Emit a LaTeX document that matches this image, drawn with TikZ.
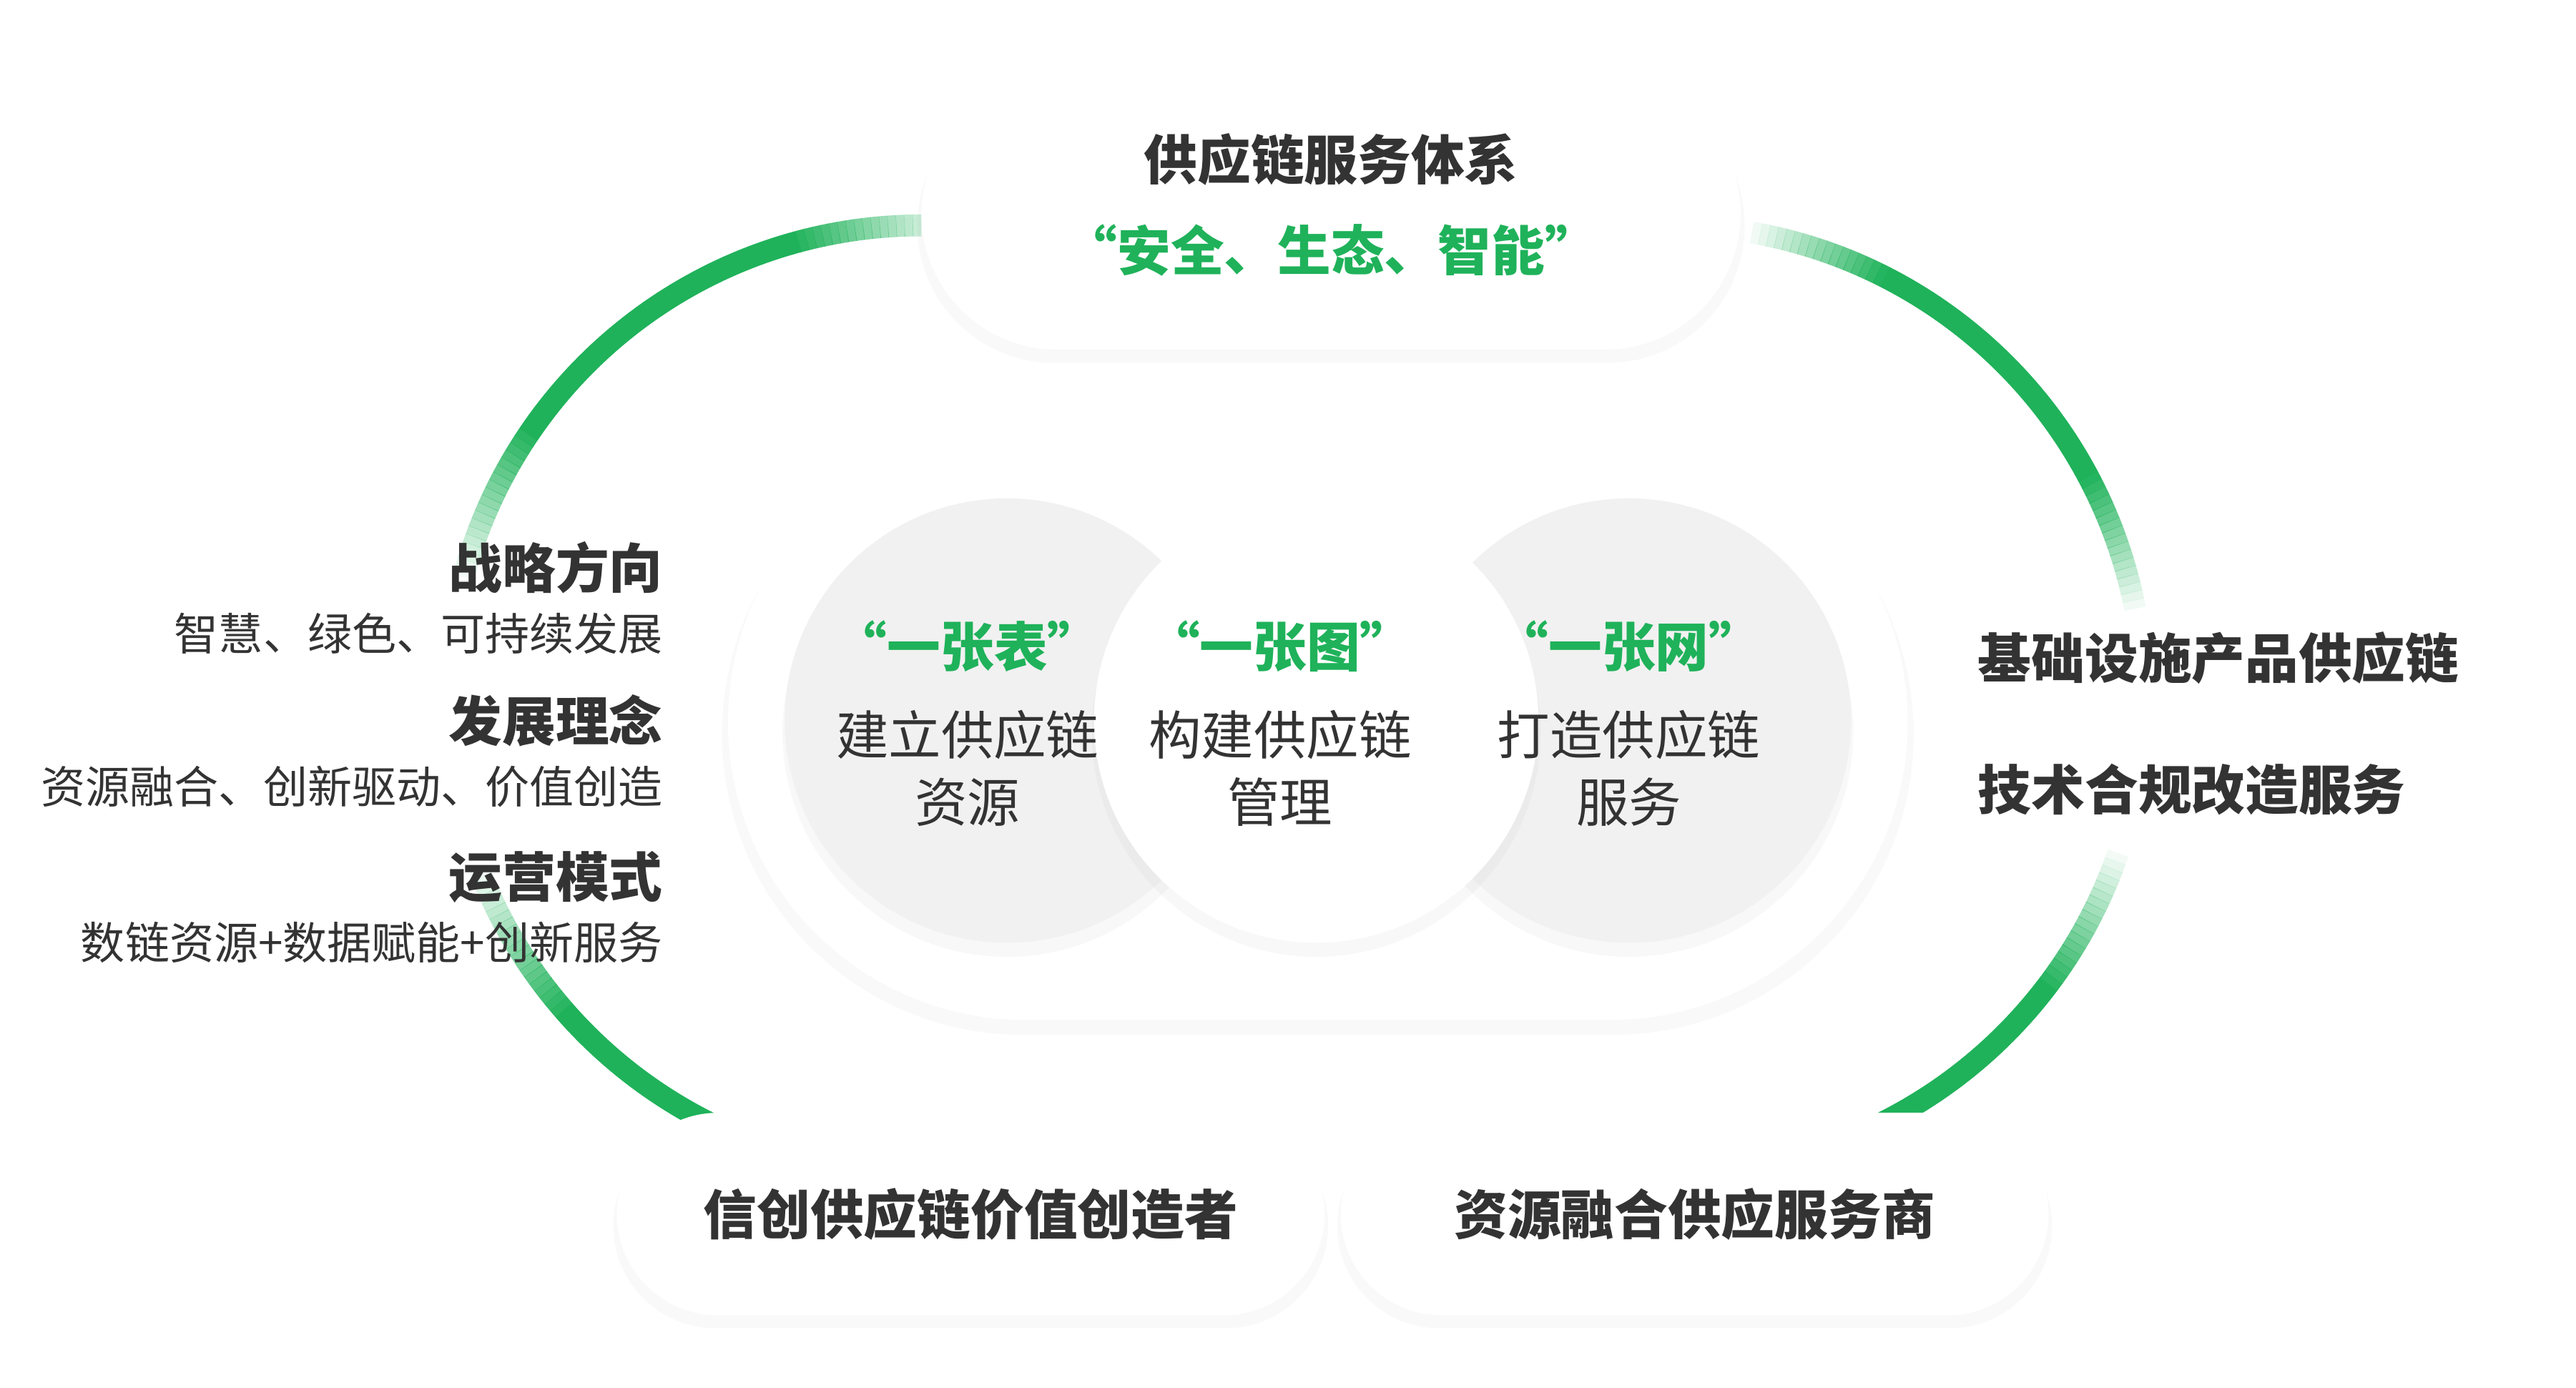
\documentclass[tikz,border=0pt]{standalone}
\usepackage{fontspec}
\setmainfont{Noto Sans CJK SC}
\usetikzlibrary{shadows,positioning}
\definecolor{penGreen}{HTML}{1FB25A}
\definecolor{penText}{HTML}{333333}
\definecolor{penGray}{HTML}{F1F1F1}
\tikzset{
  soft/.style={drop shadow={opacity=0.05,shadow xshift=0pt,shadow yshift=-4pt,shadow scale=1.01}},
  pill/.style={fill=white,draw=none,minimum width=#1,minimum height=3.27cm,
    rounded corners=1.63cm,soft},
  botpill/.style={fill=white,draw=none,minimum width=8.52cm,minimum height=2.44cm,
    rounded corners=1.22cm,soft},
  ball/.style={circle,draw=none,minimum size=5.35cm,fill=#1,soft},
  head/.style={font=\bfseries\fontsize{18.3}{20}\selectfont,text=penText},
  green/.style={font=\bfseries\fontsize{18.3}{20}\selectfont,text=penGreen},
  body/.style={font=\fontsize{18}{23}\selectfont,text=penText,align=center},
  small/.style={font=\fontsize{15.2}{18}\selectfont,text=penText},
}
\begin{document}
\begin{tikzpicture}[x=0.0198cm,y=-0.0198cm,line cap=butt]
  \useasboundingbox (0,0) rectangle (1565.7,843.4);

  % green ring, fading in and out
  \foreach \a [evaluate=\a as \o using {min(1,max(0,2-2*abs(\a-125)/40)+max(0,2-2*abs(\a-242)/42))}] in {90,91,...,269}
    \draw [penGreen,line width=7.5pt,opacity=\o]
      ({560+288*cos(\a)},{425-288*sin(\a)}) -- ({560+288*cos(\a+1.05)},{425-288*sin(\a+1.05)});
  \foreach \a [evaluate=\a as \o using {min(1,max(0,2-2*abs(\a-45)/35)+max(0,2-2*abs(\a+57)/38))}] in {-90,-89,...,89}
    \draw [penGreen,line width=7.5pt,opacity=\o]
      ({1015+288*cos(\a)},{425-288*sin(\a)}) -- ({1015+288*cos(\a+1.05)},{425-288*sin(\a+1.05)});

  % top pill
  \node [pill=9.86cm] (top) at (809,130) {};
  \node [head] (topA) at (809,97) {供应链服务体系};
  \node [green] (topB) at (809,152) {“安全、生态、智能”};

  % centre stadium and circles
  \node [pill=14.2cm,minimum height=7.17cm,rounded corners=3.58cm] (mid) at (801,439) {};
  \node [ball=penGray] (c1) at (612,438) {};
  \node [ball=penGray] (c3) at (990,438) {};
  \node [ball=white] (c2) at (800,438) {};

  \node [green] (t1) at (588,393) {“一张表”};
  \node [body] (b1) at (588,467) {建立供应链\\资源};
  \node [green] (t2) at (778,393) {“一张图”};
  \node [body] (b2) at (778,467) {构建供应链\\管理};
  \node [green] (t3) at (990,393) {“一张网”};
  \node [body] (b3) at (990,467) {打造供应链\\服务};

  % left texts
  \node [head,anchor=east] (l1) at (409,345) {战略方向};
  \node [small,anchor=east] (l2) at (409,385) {智慧、绿色、可持续发展};
  \node [head,anchor=east] (l3) at (409,438) {发展理念};
  \node [small,anchor=east] (l4) at (409,478) {资源融合、创新驱动、价值创造};
  \node [head,anchor=east] (l5) at (409,533) {运营模式};
  \node [small,anchor=east] (l6) at (409,573) {数链资源+数据赋能+创新服务};

  % right texts
  \node [head,anchor=west] (r1) at (1196,400) {基础设施产品供应链};
  \node [head,anchor=west] (r2) at (1196,480) {技术合规改造服务};

  % bottom pills
  \node [botpill] (bl) at (590,738) {};
  \node [head] at (bl) {信创供应链价值创造者};
  \node [botpill] (br) at (1030,738) {};
  \node [head] at (br) {资源融合供应服务商};
\end{tikzpicture}
\end{document}
